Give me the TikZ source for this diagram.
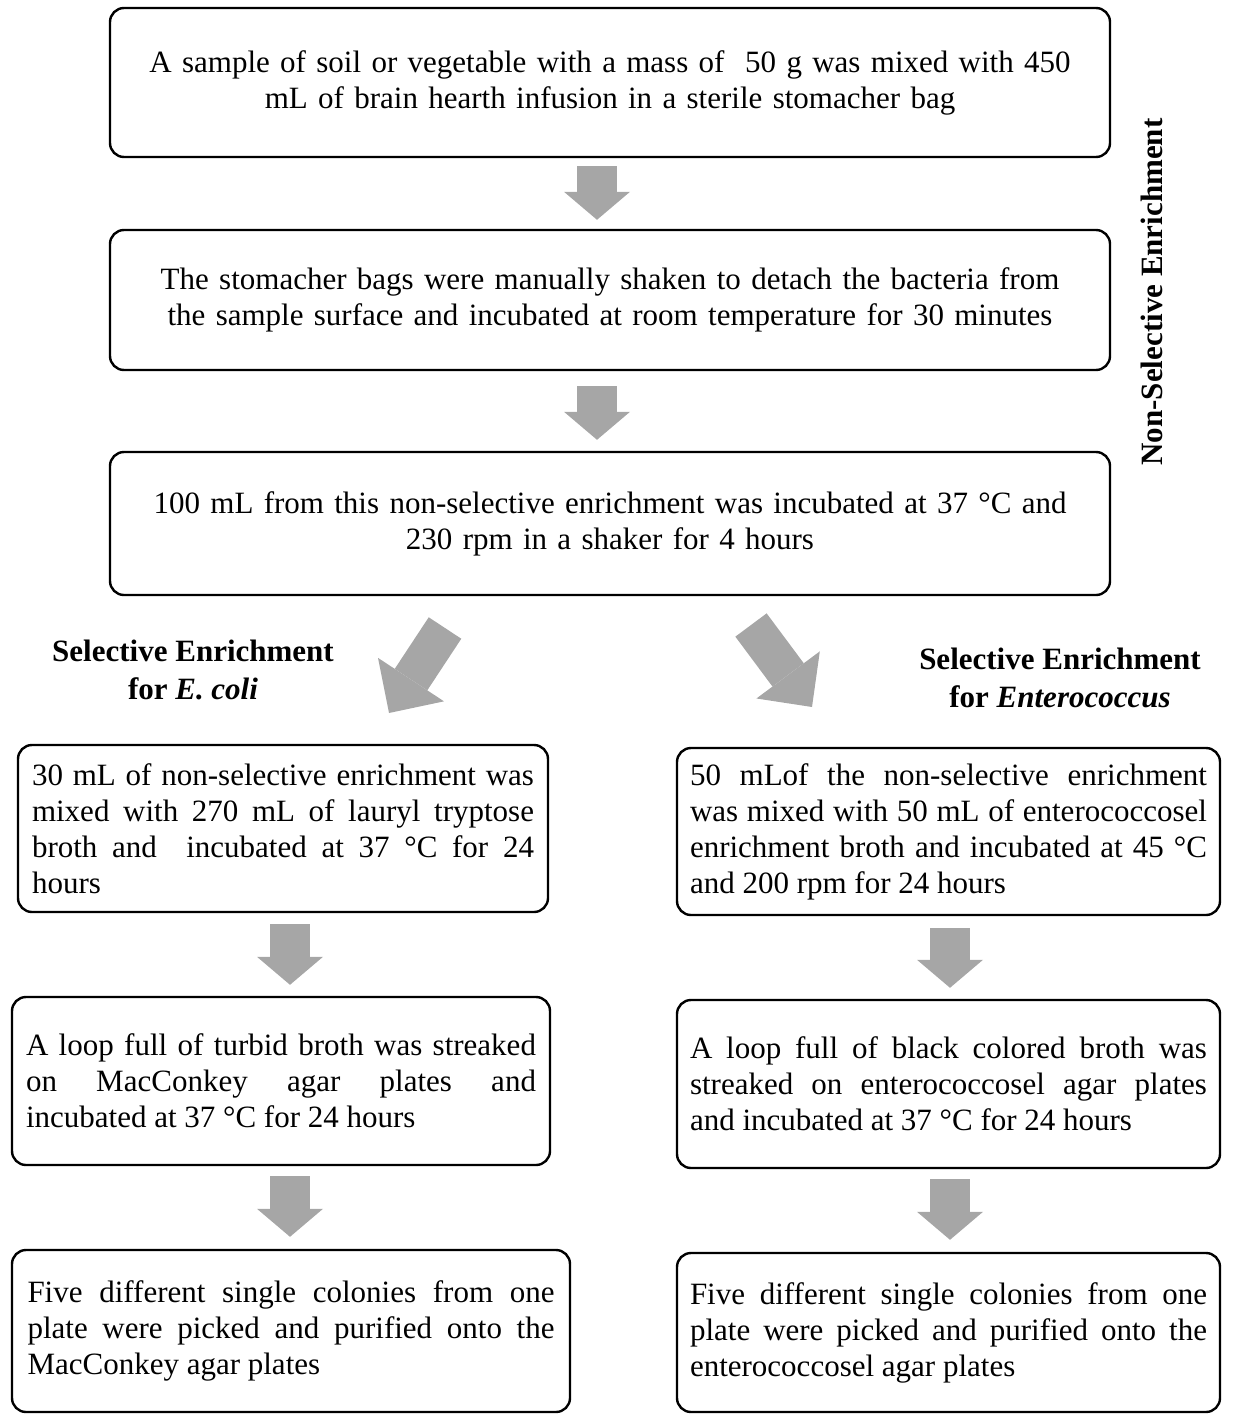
\documentclass[tikz,border=0pt]{standalone}
\usepackage{fontspec}
\setmainfont{Liberation Serif}
\usetikzlibrary{positioning, arrows.meta, calc}
\definecolor{arrowgray}{HTML}{A6A6A6}
\tikzset{
  stepbox/.style={draw, line width=2.4, rounded corners=14, inner sep=12,
    font=\fontsize{31}{36}\selectfont},
  midbox/.style={stepbox, minimum width=1000, text width=976, align=center},
  sidebox/.style={stepbox, align=justify},
  phase/.style={font=\fontsize{31}{38}\selectfont\bfseries, align=center},
  downarrow/.style={arrowgray, line width=40,
    -{Triangle[length=28pt, width=66pt, line width=0pt]}},
  bigarrow/.style={arrowgray, line width=39,
    -{Triangle[length=40pt, width=79pt, line width=0pt]}}
}

\begin{document}
\begin{tikzpicture}[x=1pt, y=-1pt]
  \useasboundingbox (0,0) rectangle (1234,1416);

  % non-selective part
  \node[midbox, minimum height=149] (soil) at (610,82.5)
    {A sample of soil or vegetable with a mass of\ \ 50 g was mixed with 450\\
     mL of brain hearth infusion in a sterile stomacher bag};
  \node[midbox, minimum height=140] (shake) at (610,300)
    {The stomacher bags were manually shaken to detach the bacteria from\\
     the sample surface and incubated at room temperature for 30 minutes};
  \node[midbox, minimum height=143] (shaker) at (610,523.5)
    {100 mL from this non-selective enrichment was incubated at 37 °C and\\
     230 rpm in a shaker for 4 hours};
  \node[phase, rotate=90] (nonsel) at (1152,292) {Non-Selective Enrichment};

  % E. coli branch
  \node[phase] (ecolilabel) at (193,670) {Selective Enrichment\\for \textit{E. coli}};
  \node[sidebox, minimum width=530, minimum height=167, text width=502] (ecoli1) at (283,828.5)
    {30 mL of non-selective enrichment was\linebreak
     mixed with 270 mL of lauryl tryptose\linebreak
     broth and\ \ incubated at 37 °C for 24\linebreak
     hours};
  \node[sidebox, minimum width=538, minimum height=168, text width=510] (ecoli2) at (281,1081)
    {A loop full of turbid broth was streaked\linebreak
     on MacConkey agar plates and\linebreak
     incubated at 37 °C for 24 hours};
  \node[sidebox, minimum width=558, minimum height=162, text width=527] (ecoli3) at (291,1331)
    {Five different single colonies from one\linebreak
     plate were picked and purified onto the\linebreak
     MacConkey agar plates};

  % Enterococcus branch
  \node[phase] (entlabel) at (1060,678) {Selective Enrichment\\for \textit{Enterococcus}};
  \node[sidebox, minimum width=543, minimum height=167, text width=517] (ent1) at (948.5,831.5)
    {50 mLof the non-selective enrichment\linebreak
     was mixed with 50 mL of enterococcosel\linebreak
     enrichment broth and incubated at 45 °C\linebreak
     and 200 rpm for 24 hours};
  \node[sidebox, minimum width=543, minimum height=168, text width=517] (ent2) at (948.5,1084)
    {A loop full of black colored broth was\linebreak
     streaked on enterococcosel agar plates\linebreak
     and incubated at 37 °C for 24 hours};
  \node[sidebox, minimum width=543, minimum height=159, text width=517] (ent3) at (948.5,1332.5)
    {Five different single colonies from one\linebreak
     plate were picked and purified onto the\linebreak
     enterococcosel agar plates};

  % block arrows
  \draw[downarrow] ([xshift=-13, yshift=-8]soil.south) -- ([xshift=-13, yshift=9]shake.north);
  \draw[downarrow] ([xshift=-13, yshift=-15]shake.south) -- ([xshift=-13, yshift=11]shaker.north);
  \coordinate (ecolitail) at (445,628);
  \coordinate (ecolitip) at (389,713);
  \coordinate (enttail) at (751,625);
  \coordinate (enttip) at (812,707);
  \draw[bigarrow] (ecolitail) -- (ecolitip);
  \draw[bigarrow] (enttail) -- (enttip);
  \draw[downarrow] ([xshift=7, yshift=-11]ecoli1.south) -- ([xshift=9, yshift=11]ecoli2.north);
  \draw[downarrow] ([xshift=9, yshift=-10]ecoli2.south) -- ([xshift=-1, yshift=12]ecoli3.north);
  \draw[downarrow] ([xshift=1.5, yshift=-12]ent1.south) -- ([xshift=1.5, yshift=11]ent2.north);
  \draw[downarrow] ([xshift=1.5, yshift=-10]ent2.south) -- ([xshift=1.5, yshift=12]ent3.north);
\end{tikzpicture}
\end{document}
